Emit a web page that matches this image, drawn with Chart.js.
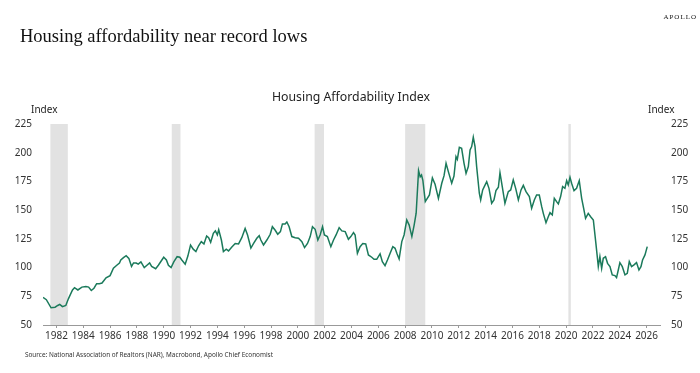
<!DOCTYPE html>
<html>
<head>
<meta charset="utf-8">
<script src="https://cdn.jsdelivr.net/npm/chart.js@4"></script>
<style>
  html, body { margin: 0; padding: 0; background: #fff; }
  #wrap { width: 700px; height: 373px; }
</style>
</head>
<body>
<div id="wrap"><canvas id="affordChart" width="700" height="373"></canvas></div>
<script>
// dates (decimal years) and index values
const dates = [
  1981.0, 1981.25, 1981.6, 1981.9, 1982.1, 1982.25, 1982.45, 1982.7, 1982.9, 1983.2,
  1983.35, 1983.6, 1983.9, 1984.2, 1984.4, 1984.6, 1984.8, 1985.0, 1985.2, 1985.4,
  1985.7, 1986.0, 1986.25, 1986.5, 1986.7, 1986.8, 1987.0, 1987.2, 1987.4, 1987.6,
  1987.75, 1987.95, 1988.1, 1988.3, 1988.55, 1988.75, 1988.95, 1989.1, 1989.4, 1989.6,
  1989.8, 1990.0, 1990.2, 1990.35, 1990.55, 1990.75, 1991.0, 1991.2, 1991.35, 1991.6,
  1991.8, 1992.0, 1992.2, 1992.4, 1992.6, 1992.8, 1993.0, 1993.2, 1993.35, 1993.5,
  1993.7, 1993.85, 1994.0, 1994.1, 1994.3, 1994.45, 1994.66, 1994.83, 1995.08, 1995.33,
  1995.58, 1995.82, 1996.07, 1996.25, 1996.5, 1996.7, 1996.94, 1997.12, 1997.24, 1997.44,
  1997.69, 1997.94, 1998.1, 1998.3, 1998.5, 1998.7, 1998.85, 1999.05, 1999.18, 1999.35,
  1999.55, 1999.8, 2000.05, 2000.3, 2000.5, 2000.72, 2000.92, 2001.09, 2001.29, 2001.49,
  2001.66, 2001.84, 2001.98, 2002.2, 2002.46, 2002.66, 2002.85, 2003.08, 2003.28, 2003.53,
  2003.77, 2003.95, 2004.15, 2004.27, 2004.44, 2004.64, 2004.84, 2005.06, 2005.26, 2005.51,
  2005.68, 2005.88, 2006.13, 2006.3, 2006.5, 2006.68, 2006.88, 2007.08, 2007.25, 2007.38,
  2007.55, 2007.75, 2007.92, 2008.12, 2008.3, 2008.5, 2008.67, 2008.82, 2009.0, 2009.12,
  2009.22, 2009.32, 2009.5, 2009.81, 2010.03, 2010.23, 2010.48, 2010.73, 2010.9, 2011.05,
  2011.22, 2011.47, 2011.64, 2011.79, 2011.89, 2012.04, 2012.21, 2012.39, 2012.54, 2012.71,
  2012.84, 2012.96, 2013.08, 2013.21, 2013.33, 2013.53, 2013.63, 2013.78, 2013.9, 2014.08,
  2014.25, 2014.45, 2014.62, 2014.77, 2014.95, 2015.07, 2015.24, 2015.44, 2015.69, 2015.87,
  2016.06, 2016.24, 2016.44, 2016.64, 2016.81, 2017.01, 2017.26, 2017.43, 2017.63, 2017.8,
  2018.0, 2018.18, 2018.3, 2018.5, 2018.67, 2018.8, 2018.97, 2019.12, 2019.29, 2019.42,
  2019.59, 2019.74, 2019.91, 2020.04, 2020.16, 2020.29, 2020.41, 2020.59, 2020.78, 2020.98,
  2021.16, 2021.33, 2021.45, 2021.65, 2021.83, 2022.03, 2022.22, 2022.4, 2022.52, 2022.65,
  2022.77, 2022.94, 2023.09, 2023.27, 2023.44, 2023.64, 2023.76, 2023.89, 2024.01, 2024.19,
  2024.39, 2024.56, 2024.71, 2024.88, 2025.06, 2025.25, 2025.43, 2025.58, 2025.7, 2025.88,
  2026.05
];
const affordability = [
  74, 72, 65, 65.5, 67, 68, 66, 67, 73, 80.5,
  82.5, 80.5, 83, 83.5, 83, 80, 82, 86, 86, 86.5,
  91, 93, 99.5, 102, 104, 106.6, 108.7, 110.4, 108, 101,
  104, 104, 103, 105, 100, 102, 104, 101, 99, 102,
  105.5, 109, 106.6, 102, 100, 105, 109.5, 109, 106.6, 103,
  110, 119.5, 116, 114, 119, 122.6, 120.6, 127.5, 126, 122,
  129.8, 132, 128.4, 133, 124, 114, 116, 114.5, 118, 121,
  120.6, 126, 134, 128.4, 117, 121, 125.5, 127.8, 124, 119.7,
  124, 129, 135.6, 132.7, 129, 131.3, 138, 138, 139.7, 135.6,
  127, 126, 125.5, 122.6, 117.4, 121, 127, 135.6, 133.3, 124,
  128.4, 135.6, 128.4, 127, 118.2, 124, 128.4, 134.8, 131.9, 131.3,
  124.6, 127, 130.4, 128.4, 112.4, 118.2, 121, 120.6, 111, 109,
  107.2, 107.2, 112, 105.2, 101.7, 106.6, 112.4, 118.2, 116.8, 112.4,
  107.5, 122.6, 128.4, 141.4, 137, 127, 137, 147.3, 184.4, 179,
  180.6, 176, 157.4, 163.2, 178, 172.5, 160.3, 173.4, 180, 190.8,
  183.5, 173.4, 179.7, 196.6, 194.2, 204.7, 203.8, 190.8, 182, 187.9,
  202.4, 205.3, 213.4, 205.3, 187.9, 164.7, 158.9, 167.6, 170.5, 174.8,
  169, 156, 158.9, 167, 169.9, 182.6, 170.5, 156, 166.1, 167.6,
  176.3, 169, 158.9, 167.6, 171.6, 166.1, 161.8, 151.6, 158.9, 163.2,
  163.2, 153, 147.2, 139.1, 144.3, 147.8, 145.8, 160.3, 157.4, 155.4,
  161.8, 170.5, 169, 175.7, 171.9, 178.6, 173.4, 167, 169, 175.7,
  160.3, 150.2, 142.9, 147.2, 144.3, 141.4, 121.1, 100.8, 109.5, 99.4,
  108.1, 109.5, 103.7, 100.8, 93.6, 93, 91.3, 97.9, 104.3, 100.8,
  93.6, 95, 105.2, 100.8, 102.3, 104.3, 97.9, 100.8, 106.6, 111,
  118.2
];

// recession shading (start / end, decimal years)
const recessionStarts = [1981.55, 1990.6, 2001.25, 2008.0, 2020.17];
const recessionEnds   = [1982.85, 1991.25, 2001.95, 2009.5, 2020.35];

// axis ticks
const yearTicks = [];
for (let y = 1982; y <= 2026; y += 2) yearTicks.push(y);
const indexTicks = [50, 75, 100, 125, 150, 175, 200, 225];

const sansFont = '"Noto Sans", "Open Sans", sans-serif';
const serifFont = '"Liberation Serif", "DejaVu Serif", serif';

// grey bands behind the line
const recessionBands = {
  id: 'recessionBands',
  beforeDatasetsDraw(chart) {
    const { ctx, chartArea, scales } = chart;
    ctx.save();
    ctx.fillStyle = '#e2e2e2';
    for (let i = 0; i < recessionStarts.length; i++) {
      const x0 = scales.x.getPixelForValue(recessionStarts[i]);
      const x1 = scales.x.getPixelForValue(recessionEnds[i]);
      ctx.fillRect(x0, chartArea.top, x1 - x0, chartArea.bottom - chartArea.top);
    }
    ctx.restore();
  }
};

// titles, unit labels, source, logo
const pageText = {
  id: 'pageText',
  afterDraw(chart) {
    const ctx = chart.ctx;
    ctx.save();
    ctx.fillStyle = '#111';
    ctx.textBaseline = 'alphabetic';

    ctx.font = '18.5px ' + serifFont;
    ctx.textAlign = 'left';
    ctx.fillText('Housing affordability near record lows', 20, 42);

    ctx.font = '7px ' + serifFont;
    ctx.textAlign = 'right';
    ctx.letterSpacing = '1px';
    ctx.fillText('APOLLO', 697, 19);
    ctx.letterSpacing = '0px';

    ctx.fillStyle = '#222';
    ctx.font = '12.3px ' + sansFont;
    ctx.textAlign = 'center';
    ctx.textBaseline = 'middle';
    ctx.fillText('Housing Affordability Index', 351, 97);

    ctx.font = '10px ' + sansFont;
    ctx.textAlign = 'left';
    ctx.fillText('Index', 31, 110);
    ctx.fillText('Index', 648, 110);

    ctx.fillStyle = '#333';
    ctx.font = '6.4px ' + sansFont;
    ctx.fillText('Source: National Association of Realtors (NAR), Macrobond, Apollo Chief Economist', 25, 355);
    ctx.restore();
  }
};

const ctx = document.getElementById('affordChart').getContext('2d');

const affordChart = new Chart(ctx, {
  type: 'line',
  data: {
    datasets: [{
      label: 'Housing Affordability Index',
      data: dates.map((d, i) => ({ x: d, y: affordability[i] })),
      borderColor: '#1b7a5b',
      borderWidth: 1.5,
      pointRadius: 0,
      tension: 0,
      yAxisID: 'y'
    }]
  },
  options: {
    responsive: false,
    animation: false,
    devicePixelRatio: 1,
    layout: {
      padding: { top: 124, bottom: 26, left: 0, right: 0 }
    },
    plugins: {
      legend: { display: false },
      tooltip: { enabled: false }
    },
    scales: {
      x: {
        type: 'linear',
        min: 1981,
        max: 2027,
        afterBuildTicks(scale) {
          scale.ticks = yearTicks.map(v => ({ value: v }));
        },
        afterFit(scale) { scale.height = 22; },
        grid: { drawOnChartArea: false, drawTicks: true, tickLength: 3, color: '#999' },
        border: { display: true, color: '#999' },
        ticks: {
          color: '#333',
          font: { family: sansFont, size: 10 },
          padding: 2,
          maxRotation: 0,
          autoSkip: false,
          callback: v => String(v)
        }
      },
      y: {
        position: 'left',
        min: 50,
        max: 225,
        afterBuildTicks(scale) {
          scale.ticks = indexTicks.map(v => ({ value: v }));
        },
        afterFit(scale) { scale.width = 43; },
        grid: { display: false },
        border: { display: false },
        ticks: { color: '#333', font: { family: sansFont, size: 10 }, padding: 3 }
      },
      y2: {
        position: 'right',
        min: 50,
        max: 225,
        afterBuildTicks(scale) {
          scale.ticks = indexTicks.map(v => ({ value: v }));
        },
        afterFit(scale) { scale.width = 40; },
        grid: { display: false },
        border: { display: false },
        ticks: { color: '#333', font: { family: sansFont, size: 10 }, padding: 3 }
      }
    }
  },
  plugins: [recessionBands, pageText]
});
</script>
</body>
</html>
